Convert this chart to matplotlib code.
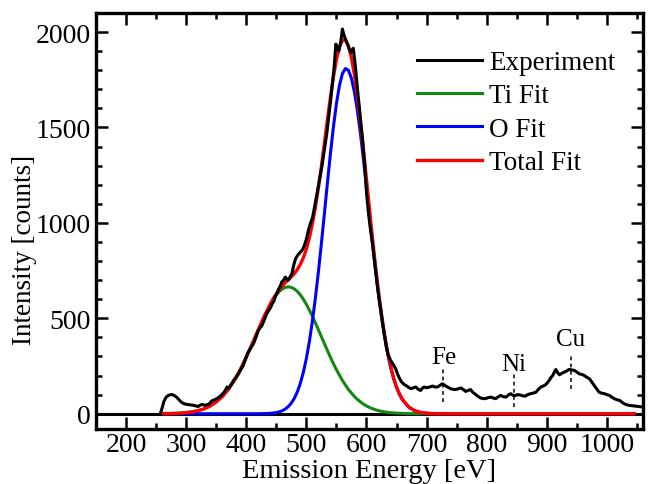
import numpy as np
import matplotlib
matplotlib.use("Agg")
import matplotlib.pyplot as plt
from matplotlib.ticker import MultipleLocator

# fonts etc.
# ----------
plt.rcParams.update({
    "font.family": ["Liberation Serif", "DejaVu Serif"],
    "mathtext.fontset": "stix",
})

# experiment
# ----------------------------------
exp_energy = [257, 260, 263, 267, 271, 276, 280, 284, 289, 293, 297, 301, 306, 312, 316, 320,
              323, 326, 329, 332, 335, 338, 341, 344, 348, 351, 355, 359, 363, 366, 368, 371,
              375, 379, 383, 387, 391, 395, 399, 403, 407, 412, 416, 420, 423, 426, 430, 434,
              438, 441, 443, 446, 448, 451, 454, 457, 459, 462, 465, 468, 470, 473, 476, 479,
              482, 485, 488, 491, 494, 497, 500, 504, 507, 510, 514, 518, 522, 526, 530, 534,
              537, 540, 543, 546, 549, 552, 554, 557, 560, 562, 565, 568, 571, 574, 578, 582,
              585, 588, 591, 594, 597, 600, 603, 606, 610, 614, 618, 621, 624, 627, 630, 633,
              636, 640, 643, 646, 649, 652, 655, 658, 662, 666, 670, 674, 678, 682, 686, 690,
              693, 696, 700, 705, 710, 714, 718, 722, 726, 729, 732, 736, 740, 744, 748, 752,
              757, 761, 765, 769, 773, 777, 782, 786, 790, 794, 798, 802, 807, 811, 815, 819,
              823, 827, 832, 836, 840, 844, 848, 852, 856, 860, 864, 868, 873, 877, 882, 886,
              890, 894, 898, 901, 904, 907, 910, 913, 915, 918, 921, 925, 929, 933, 937, 941,
              946, 950, 954, 958, 962, 966, 971, 975, 979, 983, 987, 991, 996, 1000, 1004, 1008,
              1012, 1016, 1021, 1025, 1029, 1033, 1037, 1042, 1048, 1053, 1060]
exp_counts = [0, 30, 65, 88, 97, 101, 96, 87, 70, 58, 52, 49, 47, 44, 41, 38,
              44, 49, 46, 44, 48, 50, 62, 70, 74, 79, 88, 99, 112, 128, 140, 134,
              155, 175, 190, 209, 232, 253, 290, 322, 342, 367, 400, 436, 450, 462, 492, 524,
              545, 560, 576, 590, 611, 632, 655, 672, 690, 700, 716, 705, 700, 718, 735, 780,
              812, 828, 840, 850, 862, 885, 915, 969, 1000, 1025, 1090, 1161, 1230, 1300, 1385, 1470,
              1550, 1632, 1720, 1810, 1937, 1915, 1902, 1946, 2016, 1990, 1963, 1940, 1915, 1894, 1915, 1806,
              1700, 1610, 1510, 1420, 1300, 1160, 1060, 980, 890, 780, 672, 600, 540, 470, 410, 350,
              310, 280, 266, 250, 232, 205, 185, 168, 155, 147, 138, 131, 136, 140, 128, 122,
              134, 140, 136, 140, 145, 140, 140, 148, 157, 152, 145, 138, 131, 128, 127, 130,
              135, 127, 117, 122, 127, 112, 100, 90, 82, 80, 79, 84, 87, 82, 79, 88,
              96, 90, 87, 98, 105, 96, 96, 100, 98, 94, 92, 100, 105, 108, 113, 128,
              140, 145, 152, 163, 175, 190, 201, 222, 232, 215, 204, 212, 218, 224, 232, 230,
              227, 218, 209, 206, 201, 192, 183, 165, 148, 130, 113, 108, 105, 100, 96, 87,
              79, 74, 70, 60, 52, 47, 44, 42, 40, 38, 35]

# fits
# ---------------------------
fit_energy = [260, 270, 280, 290, 300, 310, 320, 330, 340, 350, 360, 370, 380, 390, 400, 410,
              420, 430, 440, 445, 450, 455, 460, 465, 470, 475, 480, 485, 490, 495, 500, 505,
              510, 515, 520, 525, 530, 535, 540, 545, 550, 555, 560, 565, 570, 575, 580, 585,
              590, 595, 600, 605, 610, 615, 620, 625, 630, 635, 640, 645, 650, 655, 660, 670,
              680, 690, 700, 710, 720, 740, 800, 900, 1000, 1045]
ti_fit = [0.5, 0.9, 1.7, 3.1, 5.6, 9.7, 16, 26, 41, 62, 90, 127, 174, 231, 296, 367,
          440, 511, 573, 600, 623, 641, 654, 662, 665, 662, 654, 641, 623, 600, 573, 543,
          511, 476, 440, 403, 367, 331, 296, 262, 231, 202, 174, 150, 127, 108, 90, 75,
          62, 50, 41, 33, 26, 21, 16, 12.5, 9.7, 7.4, 5.6, 4.2, 3.1, 2.3, 1.7, 0.9,
          0.5, 0.2, 0.1, 0, 0, 0, 0, 0, 0, 0]
o_fit = [0, 0, 0, 0, 0, 0, 0, 0, 0, 0, 0, 0, 0, 0, 0, 0,
         0.1, 0.8, 2.3, 3.9, 6.3, 10, 16, 25, 38, 56, 81, 115, 160, 218, 290, 379,
         485, 607, 744, 893, 1050, 1209, 1363, 1504, 1625, 1720, 1783, 1809, 1800, 1757, 1685, 1586,
         1467, 1331, 1187, 1039, 892, 753, 624, 508, 405, 318, 245, 185, 138, 100, 72, 35,
         16, 6.6, 2.6, 0.9, 0.3, 0, 0, 0, 0, 0]
total_fit = [0.5, 0.9, 1.7, 3.1, 5.6, 9.7, 16, 26, 41, 62, 90, 127, 174, 231, 296, 367,
             440, 512, 575, 604, 629, 651, 670, 687, 703, 718, 735, 756, 783, 818, 863, 922,
             996, 1083, 1184, 1296, 1417, 1540, 1659, 1766, 1856, 1922, 1957, 1959, 1927, 1865, 1775, 1661,
             1529, 1381, 1228, 1072, 918, 774, 640, 520, 415, 325, 251, 189, 141, 102, 74, 36,
             16.5, 6.8, 2.7, 0.9, 0.3, 0, 0, 0, 0, 0]

# element markers
peak_names = ['Fe', 'Ni', 'Cu']
peak_energy = [728, 845, 940]
peak_line_top = [240, 220, 314]
peak_line_bottom = [60, 37, 131]
peak_label_y = [268, 230, 360]

# plot
# ----
fig = plt.figure(figsize=(6.52, 4.85), dpi=100)
ax = fig.add_axes([96/652, 1-430/485, (643-96)/652, (430-14)/485])

ax.axhline(0, color='black', lw=2.2, zorder=1)
ax.plot(fit_energy, ti_fit, color='#118811', lw=2.2, label='Ti Fit', zorder=2)
ax.plot(fit_energy, o_fit, color='#0000ff', lw=2.2, label='O Fit', zorder=3)
ax.plot(fit_energy, total_fit, color='#ff0000', lw=2.4, label='Total Fit', zorder=4)
ax.plot(exp_energy, exp_counts, color='black', lw=2.2, label='Experiment', zorder=5)

for name, e, top, bot, ly in zip(peak_names, peak_energy, peak_line_top,
                                 peak_line_bottom, peak_label_y):
    ax.plot([e, e], [bot, top], color='black', lw=1.1, dashes=(2.5, 2.2), zorder=6)
    ax.text(e, ly, name, ha='center', va='baseline', fontsize=18)

handles, labels = ax.get_legend_handles_labels()
order = [3, 0, 1, 2]
ax.legend([handles[i] for i in order], [labels[i] for i in order],
          loc='upper left', bbox_to_anchor=(0.587, 0.911), frameon=False,
          fontsize=19.5, handlelength=2.4, handletextpad=0.25,
          labelspacing=0.31, borderpad=0, borderaxespad=0)

ax.set_xlim(150, 1060)
ax.set_ylim(-80, 2100)
ax.xaxis.set_major_locator(MultipleLocator(100))
ax.xaxis.set_minor_locator(MultipleLocator(50))
ax.yaxis.set_major_locator(MultipleLocator(500))
ax.yaxis.set_minor_locator(MultipleLocator(100))

ax.tick_params(which='both', direction='in', top=True, right=True, width=1.8)
ax.tick_params(which='major', length=8.5, labelsize=20, pad=4)
ax.tick_params(axis='x', which='major', pad=2)
ax.tick_params(which='minor', length=4.5)
for sp in ax.spines.values():
    sp.set_linewidth(2.4)

ax.set_xlabel('Emission Energy [eV]', fontsize=20.5)
ax.set_ylabel('Intensity [counts]', fontsize=19.5)
ax.xaxis.set_label_coords(0.5, -0.069)
ax.yaxis.set_label_coords(-0.108, 0.433)

fig.patch.set_facecolor('white')
fig.savefig('out.png', dpi=100)
